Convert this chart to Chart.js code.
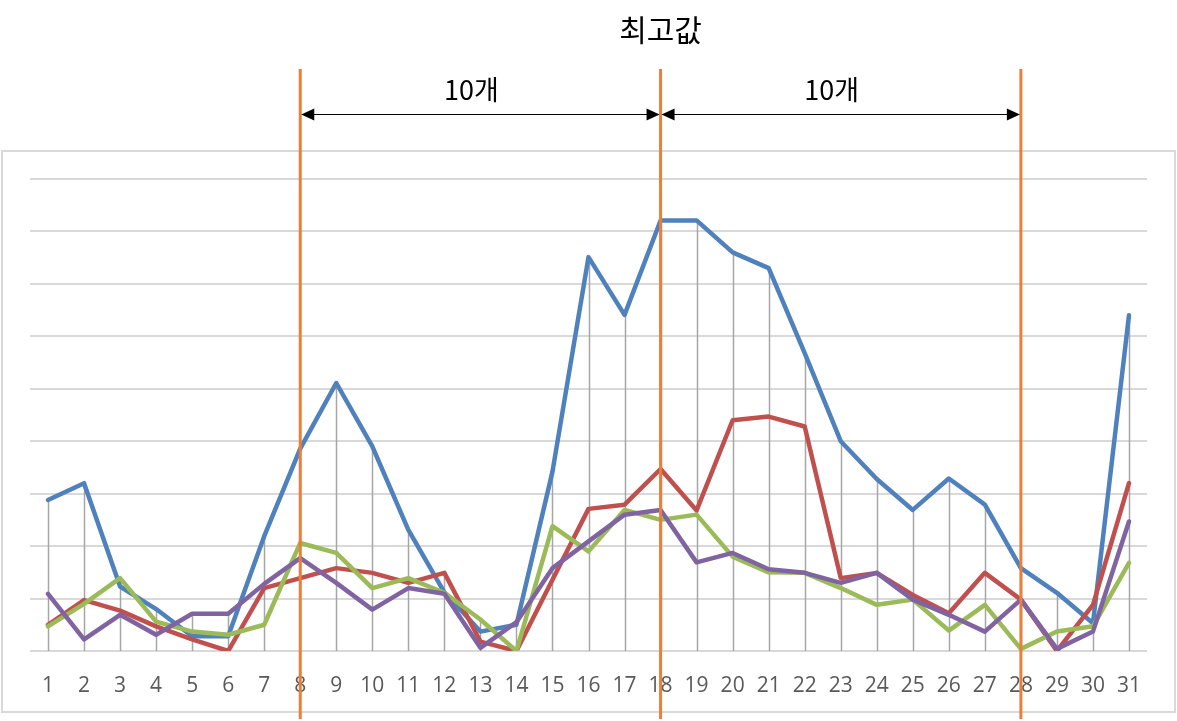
<!DOCTYPE html>
<html>
<head>
<meta charset="utf-8">
<script src="https://cdn.jsdelivr.net/npm/chart.js@4/dist/chart.umd.min.js"></script>
<style>
    html, body { margin: 0; padding: 0; background: #fff; }
    #wrap { width: 1177px; height: 721px; position: relative; }
</style>
</head>
<body>
<div id="wrap"><canvas id="chart" width="1177" height="721"></canvas></div>
<script>
// Day labels on the x axis
const days = ['1','2','3','4','5','6','7','8','9','10','11','12','13','14','15','16',
              '17','18','19','20','21','22','23','24','25','26','27','28','29','30','31'];

// Series values (units = gridline steps)
const blueValues   = [2.88, 3.20, 1.23, 0.80, 0.28, 0.28, 2.19, 3.86, 5.11, 3.90, 2.31, 1.12, 0.37, 0.50, 3.42, 7.51,
                      6.41, 8.21, 8.21, 7.60, 7.30, 5.68, 4.00, 3.28, 2.69, 3.29, 2.79, 1.58, 1.11, 0.53, 6.40];
const redValues    = [0.50, 0.97, 0.77, 0.47, 0.22, 0.00, 1.20, 1.39, 1.58, 1.49, 1.30, 1.49, 0.18, 0.00, 1.36, 2.71,
                      2.79, 3.47, 2.68, 4.40, 4.47, 4.28, 1.39, 1.49, 1.07, 0.72, 1.49, 0.98, 0.00, 0.88, 3.20];
const greenValues  = [0.47, 0.90, 1.39, 0.56, 0.37, 0.31, 0.50, 2.06, 1.87, 1.20, 1.39, 1.11, 0.60, 0.00, 2.38, 1.90,
                      2.69, 2.50, 2.60, 1.80, 1.50, 1.49, 1.20, 0.88, 0.98, 0.39, 0.88, 0.04, 0.37, 0.47, 1.68];
const purpleValues = [1.09, 0.22, 0.69, 0.31, 0.71, 0.71, 1.28, 1.77, 1.30, 0.79, 1.20, 1.09, 0.06, 0.55, 1.58, 2.09,
                      2.60, 2.69, 1.69, 1.87, 1.56, 1.49, 1.30, 1.49, 0.98, 0.69, 0.37, 0.98, 0.04, 0.37, 2.47];

// Annotations
const titleText = '최고값';
const markerDays = ['8', '18', '28'];
const spanLabel = '10개';

// Chart frame + drop lines (Excel style)
const frameAndDropLines = {
    id: 'frameAndDropLines',
    beforeDraw(chart) {
        const ctx = chart.ctx;
        ctx.save();
        ctx.fillStyle = '#ffffff';
        ctx.fillRect(0, 0, chart.width, chart.height);
        ctx.strokeStyle = '#d9d9d9';
        ctx.lineWidth = 2;
        ctx.strokeRect(2, 151, 1173, 561);
        ctx.restore();
    },
    beforeDatasetsDraw(chart) {
        const ctx = chart.ctx;
        const x = chart.scales.x;
        const y = chart.scales.y;
        ctx.save();
        ctx.strokeStyle = '#a6a6a6';
        ctx.lineWidth = 1.5;
        days.forEach((d, i) => {
            const top = Math.max(...chart.data.datasets.map(ds => ds.data[i]));
            const px = Math.round(x.getPixelForValue(i)) + 0.5;
            ctx.beginPath();
            ctx.moveTo(px, y.getPixelForValue(top));
            ctx.lineTo(px, y.getPixelForValue(0));
            ctx.stroke();
        });
        ctx.restore();
    }
};

function drawArrowHead(ctx, x, y, dir) {
    ctx.beginPath();
    ctx.moveTo(x, y);
    ctx.lineTo(x - dir * 13, y - 6);
    ctx.lineTo(x - dir * 13, y + 6);
    ctx.closePath();
    ctx.fill();
}

// Orange markers, span arrows and labels
const annotations = {
    id: 'annotations',
    afterDraw(chart) {
        const ctx = chart.ctx;
        const x = chart.scales.x;
        const xs = markerDays.map(d => x.getPixelForValue(days.indexOf(d)));
        ctx.save();

        // span arrows
        const ay = 114.5;
        ctx.strokeStyle = '#000';
        ctx.fillStyle = '#000';
        ctx.lineWidth = 1;
        for (let i = 0; i < xs.length - 1; i++) {
            const a = xs[i] + 1, b = xs[i + 1] - 1;
            ctx.beginPath();
            ctx.moveTo(a, ay);
            ctx.lineTo(b, ay);
            ctx.stroke();
            drawArrowHead(ctx, a, ay, -1);
            drawArrowHead(ctx, b, ay, 1);

            ctx.font = '27px "Noto Sans CJK KR", "Noto Sans", sans-serif';
            ctx.textAlign = 'center';
            ctx.textBaseline = 'middle';
            ctx.fillText(spanLabel, (a + b) / 2 - 9, 90);
        }

        // orange vertical markers
        ctx.strokeStyle = '#e8803a';
        ctx.lineWidth = 3;
        xs.forEach(px => {
            ctx.beginPath();
            ctx.moveTo(px, 69);
            ctx.lineTo(px, 719);
            ctx.stroke();
        });

        // title above the peak marker
        ctx.fillStyle = '#000';
        ctx.font = '30px "Noto Sans CJK KR", "Noto Sans", sans-serif';
        ctx.textAlign = 'center';
        ctx.textBaseline = 'middle';
        ctx.fillText(titleText, xs[1], 30);
        ctx.restore();
    }
};

function lineSet(label, data, color, order) {
    return {
        label,
        data,
        borderColor: color,
        backgroundColor: color,
        borderWidth: 4.5,
        borderJoinStyle: 'round',
        borderCapStyle: 'round',
        pointRadius: 0,
        tension: 0,
        order
    };
}

const ctx = document.getElementById('chart').getContext('2d');
new Chart(ctx, {
    type: 'line',
    data: {
        labels: days,
        datasets: [
            lineSet('blue', blueValues, '#4f81bd', 4),
            lineSet('red', redValues, '#c0504d', 3),
            lineSet('green', greenValues, '#9bbb59', 2),
            lineSet('purple', purpleValues, '#8064a2', 1)
        ]
    },
    options: {
        responsive: false,
        animation: false,
        devicePixelRatio: 1,
        layout: { padding: { left: 30, right: 30, top: 179, bottom: 0 } },
        plugins: {
            legend: { display: false },
            tooltip: { enabled: false }
        },
        scales: {
            x: {
                offset: true,
                grid: { display: false },
                border: { display: false },
                ticks: {
                    color: '#595959',
                    font: { family: '"Open Sans", "Noto Sans", sans-serif', size: 21 },
                    padding: 14,
                    maxRotation: 0,
                    autoSkip: false
                },
                afterFit(scale) { scale.height = 70; }
            },
            y: {
                min: 0,
                max: 9,
                ticks: { display: false, stepSize: 1 },
                grid: { color: '#d9d9d9', lineWidth: 2, drawTicks: false },
                border: { display: false },
                afterFit(scale) { scale.width = 0; }
            }
        }
    },
    plugins: [frameAndDropLines, annotations]
});
</script>
</body>
</html>
